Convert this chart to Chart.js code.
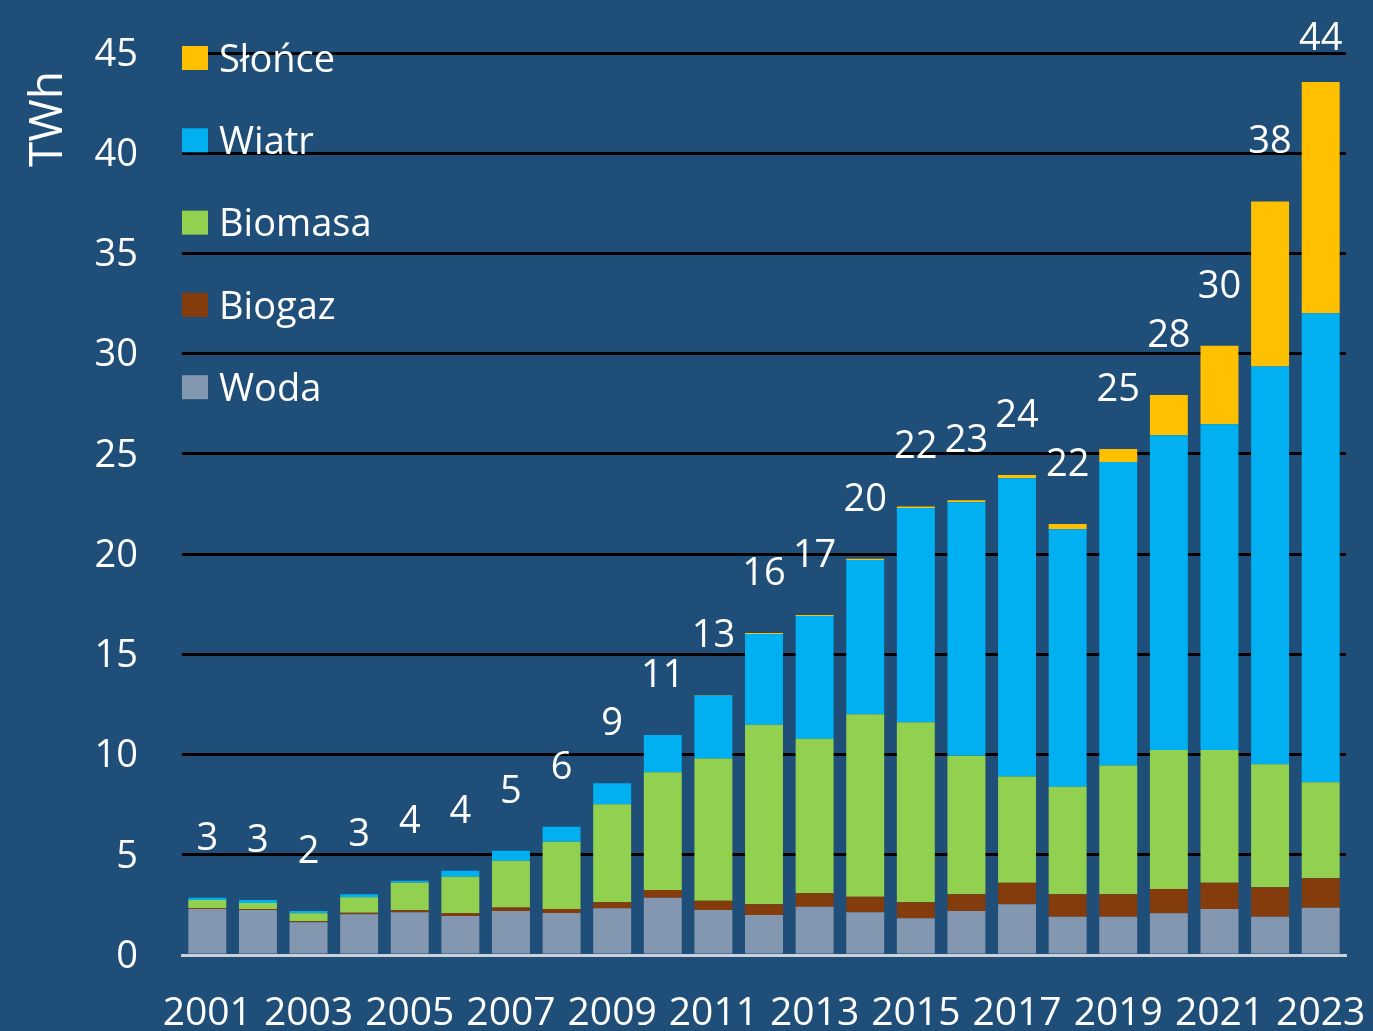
<!DOCTYPE html>
<html><head><meta charset="utf-8">
<script src="https://cdn.jsdelivr.net/npm/chart.js@4"></script>
<style>html,body{margin:0;padding:0;background:#1F4E79;overflow:hidden;}</style>
</head><body>
<canvas id="c" width="1373" height="1031" style="width:1373px;height:1031px;display:block"></canvas>
<script>
const years = ['2001','2002','2003','2004','2005','2006','2007','2008','2009','2010','2011','2012','2013','2014','2015','2016','2017','2018','2019','2020','2021','2022','2023'];
const woda    = [2.30,2.25,1.63,2.03,2.13,1.95,2.20,2.10,2.33,2.86,2.25,2.00,2.41,2.13,1.83,2.20,2.53,1.91,1.91,2.08,2.30,1.91,2.36];
const biogaz  = [0.03,0.05,0.05,0.08,0.10,0.13,0.17,0.20,0.30,0.38,0.46,0.53,0.67,0.78,0.80,0.83,1.08,1.12,1.12,1.21,1.30,1.47,1.47];
const biomasa = [0.42,0.30,0.40,0.77,1.37,1.82,2.33,3.35,4.89,5.88,7.09,8.96,7.71,9.10,8.98,6.91,5.29,5.37,6.42,6.94,6.63,6.14,4.79];
const wiatr   = [0.10,0.15,0.12,0.15,0.10,0.30,0.50,0.75,1.05,1.86,3.14,4.53,6.12,7.69,10.69,12.65,14.89,12.84,15.14,15.70,16.25,19.84,23.40];
const slonce  = [0,0,0,0,0,0,0,0,0,0,0.03,0.05,0.05,0.07,0.08,0.10,0.16,0.26,0.66,2.01,3.91,8.23,11.53];
const totalLabels = ['3','3','2','3','4','4','5','6','9','11','13','16','17','20','22','23','24','22','25','28','30','38','44'];
const yTicks = [0,5,10,15,20,25,30,35,40,45];
const unitLabel = 'TWh';

const FONT = "'Open Sans', 'DejaVu Sans', sans-serif";
const BG = '#1F4E79';

const bgPlugin = {
  id: 'bg',
  beforeDraw(chart) {
    const ctx = chart.ctx;
    ctx.save();
    ctx.fillStyle = BG;
    ctx.fillRect(0, 0, chart.width, chart.height);
    ctx.restore();
  }
};

const extras = {
  id: 'extras',
  afterDraw(chart) {
    const ctx = chart.ctx;
    const y = chart.scales.y;
    const ds = chart.data.datasets;
    ctx.save();
    // totals
    ctx.fillStyle = '#FFFFFF';
    ctx.font = '38px ' + FONT;
    ctx.textAlign = 'center';
    ctx.textBaseline = 'middle';
    const topMeta = chart.getDatasetMeta(ds.length - 1);
    years.forEach((yr, i) => {
      let sum = 0;
      ds.forEach(d => sum += d.data[i]);
      const px = topMeta.data[i].x;
      let py = y.getPixelForValue(sum) - 59;
      if (py < 39) py = 39;
      ctx.fillText(totalLabels[i], px, py);
    });
    // legend (top series first)
    const area = chart.chartArea;
    ctx.textAlign = 'left';
    ctx.font = '38px ' + FONT;
    for (let k = 0; k < ds.length; k++) {
      const d = ds[ds.length - 1 - k];
      const cy = 58 + k * 82.3;
      ctx.fillStyle = d.backgroundColor;
      ctx.fillRect(area.left, cy - 12, 26, 24);
      ctx.fillStyle = '#FFFFFF';
      ctx.fillText(d.label, area.left + 37, cy + 3);
    }
    // axis unit
    ctx.translate(49, 119);
    ctx.rotate(-Math.PI / 2);
    ctx.textAlign = 'center';
    ctx.font = '46px ' + FONT;
    ctx.fillText(unitLabel, 0, 0);
    ctx.restore();
  }
};

const mk = (label, data, color) => ({ label, data, backgroundColor: color, borderWidth: 0, categoryPercentage: 1, barPercentage: 0.75 });

new Chart(document.getElementById('c'), {
  type: 'bar',
  data: {
    labels: years,
    datasets: [
      mk('Woda', woda, '#8497B0'),
      mk('Biogaz', biogaz, '#843C0C'),
      mk('Biomasa', biomasa, '#92D050'),
      mk('Wiatr', wiatr, '#00B0F0'),
      mk('Słońce', slonce, '#FFC000')
    ]
  },
  options: {
    responsive: false,
    animation: false,
    devicePixelRatio: 1,
    layout: { padding: { top: 53, right: 27, left: 0, bottom: 0 } },
    plugins: { legend: { display: false }, tooltip: { enabled: false } },
    scales: {
      x: {
        stacked: true,
        grid: { display: false, drawTicks: false },
        border: { display: true, color: '#C9D1DC', width: 3 },
        ticks: {
          color: '#FFFFFF', font: { size: 39, family: FONT, lineHeight: 3.0 }, padding: 0,
          autoSkip: false, maxRotation: 0, minRotation: 0,
          callback: (v, i) => (i % 2 === 0 ? years[i] : '')
        },
        afterFit: s => { s.height = 76; }
      },
      y: {
        stacked: true, min: 0, max: 45,
        afterBuildTicks: s => { s.ticks = yTicks.map(v => ({ value: v })); },
        grid: {
          drawTicks: false, lineWidth: 3,
          color: c => (c.tick && c.tick.value === 0 ? 'rgba(0,0,0,0)' : '#000000')
        },
        border: { display: false },
        ticks: { color: '#FFFFFF', font: { size: 38, family: FONT, lineHeight: 0.4 }, padding: 44, labelOffset: 2 },
        afterFit: s => { s.width = 182; }
      }
    }
  },
  plugins: [bgPlugin, extras]
});
</script>
</body></html>
